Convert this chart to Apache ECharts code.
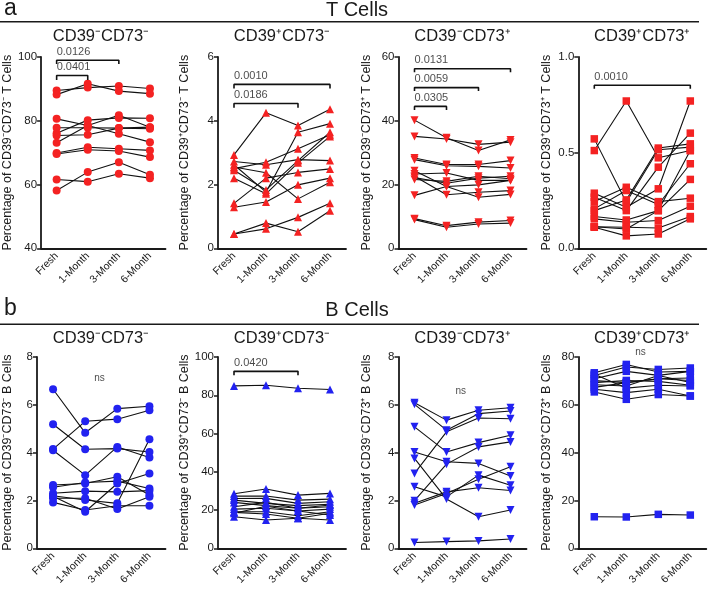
<!DOCTYPE html>
<html><head><meta charset="utf-8">
<script src="https://cdn.jsdelivr.net/npm/echarts@6/dist/echarts.min.js"></script>
<style>html,body{margin:0;padding:0;background:#fff}#c{width:708px;height:589px}</style>
</head><body><div id="c"></div>
<script>
// ---------- data ----------
const categories = ['Fresh', '1-Month', '3-Month', '6-Month'];

// T cells (each row = one donor: Fresh, 1-Month, 3-Month, 6-Month)
const tNegNeg = [
  [89.5, 90.4, 90.9, 90.1], [88.2, 91.6, 89.3, 88.5], [80.6, 78.5, 75.9, 73.3],
  [77.8, 77.8, 77.7, 77.5], [76.1, 80.2, 80.9, 80.8], [75.4, 75.6, 77.7, 78.0],
  [73.1, 78.5, 81.7, 78.0], [69.9, 71.7, 71.2, 70.7], [69.6, 70.9, 70.5, 68.6],
  [61.6, 60.9, 63.4, 62.0], [58.1, 63.9, 67.0, 63.1]
];
const tPosNeg = [
  [2.93, 4.25, 3.85, 4.36], [2.72, 2.62, 2.78, 2.75], [2.62, 1.76, 3.64, 3.91],
  [2.55, 2.37, 1.55, 2.07], [2.50, 2.70, 3.12, 3.56], [2.45, 1.83, 2.75, 3.64],
  [2.20, 1.71, 2.68, 3.51], [1.41, 2.20, 2.38, 2.49], [1.29, 1.45, 1.99, 2.20],
  [0.45, 0.79, 0.52, 1.18], [0.45, 0.61, 0.97, 1.41]
];
const tNegPos = [
  [40.2, 34.7, 30.7, 34.0], [35.1, 34.3, 32.6, 33.3], [28.3, 26.3, 26.3, 27.5],
  [27.8, 25.9, 25.7, 25.2], [24.3, 19.4, 16.0, 16.9], [23.3, 23.6, 21.3, 21.3],
  [22.2, 20.4, 22.0, 22.6], [21.6, 21.0, 22.6, 21.8], [16.6, 19.4, 19.9, 21.3],
  [22.6, 16.8, 17.6, 18.1], [9.3, 7.1, 8.2, 8.7], [9.0, 6.6, 7.6, 7.9]
];
const tPosPos = [
  [0.511, 0.770, 0.473, 0.511], [0.572, 0.241, 0.515, 0.529], [0.288, 0.215, 0.311, 0.770],
  [0.267, 0.197, 0.424, 0.602], [0.244, 0.319, 0.244, 0.262], [0.206, 0.302, 0.229, 0.442],
  [0.197, 0.253, 0.524, 0.546], [0.166, 0.148, 0.197, 0.360], [0.154, 0.136, 0.145, 0.220],
  [0.113, 0.110, 0.106, 0.166], [0.110, 0.065, 0.075, 0.154], [0.113, 0.101, 0.197, 0.511]
];
// B cells
const bNegNeg = [
  [6.65, 4.83, 5.84, 5.94], [5.19, 4.14, 4.17, 4.03], [4.15, 5.31, 5.40, 5.77],
  [4.10, 3.06, 4.24, 3.80], [2.65, 2.71, 2.99, 2.23], [2.55, 2.75, 2.81, 2.50],
  [2.30, 2.39, 2.36, 2.41], [2.20, 2.02, 1.88, 4.56], [2.18, 1.53, 2.71, 3.13],
  [2.09, 2.09, 1.64, 2.16], [1.92, 1.60, 1.78, 1.78]
];
const bPosNeg = [
  [84.9, 85.2, 83.7, 83.0], [28.5, 31.0, 27.8, 28.7], [27.3, 27.3, 25.2, 25.7],
  [26.0, 26.1, 23.5, 24.3], [25.2, 23.5, 22.3, 23.0], [24.0, 22.3, 20.9, 22.6],
  [21.7, 24.0, 20.9, 21.7], [20.5, 20.9, 19.5, 20.5], [19.1, 19.1, 17.0, 19.1],
  [18.3, 22.0, 19.5, 17.4], [16.5, 14.8, 15.7, 14.8], [18.8, 17.9, 15.7, 18.3]
];
const bNegPos = [
  [6.09, 5.36, 5.77, 5.88], [6.02, 4.94, 5.63, 5.74], [5.08, 4.03, 4.42, 4.73],
  [4.03, 3.62, 3.55, 3.02], [3.76, 2.06, 1.32, 1.60], [3.13, 4.87, 5.45, 5.42],
  [2.57, 2.15, 3.06, 2.64], [1.99, 3.52, 4.24, 4.45], [1.88, 2.36, 2.53, 2.42],
  [1.81, 2.29, 2.89, 3.41], [0.24, 0.28, 0.31, 0.39]
];
const bPosPos = [
  [73.4, 76.9, 73.7, 74.0], [72.3, 75.8, 74.8, 75.4], [70.9, 74.0, 72.3, 74.0],
  [70.1, 69.3, 70.9, 71.2], [69.3, 70.2, 69.8, 68.2], [68.4, 67.9, 72.3, 69.3],
  [67.3, 69.3, 70.9, 70.2], [66.5, 65.1, 66.5, 63.7], [65.4, 62.3, 64.3, 63.7],
  [72.8, 67.0, 68.2, 67.9], [13.2, 13.1, 14.2, 13.9]
];

// significance annotations: p label, comparison target index, bracket level (data units)
const sigTNegNeg = [{ p: '0.0126', to: 2, level: 99.0, drop: 1.2 }, { p: '0.0401', to: 1, level: 94.2, drop: 1.4 }];
const sigTPosNeg = [{ p: '0.0010', to: 3, level: 5.14, drop: 0.13 }, { p: '0.0186', to: 2, level: 4.54, drop: 0.13 }];
const sigTNegPos = [{ p: '0.0131', to: 3, level: 56.3, drop: 1.1 }, { p: '0.0059', to: 2, level: 50.4, drop: 1.1 }, { p: '0.0305', to: 1, level: 44.5, drop: 1.1 }];
const sigTPosPos = [{ p: '0.0010', to: 3, level: 0.852, drop: 0.018 }];
const sigBPosNeg = [{ p: '0.0420', to: 2, level: 92.5, drop: 2.1 }];
const nsBNegNeg = { at: 1, level: 7.1 };
const nsBNegPos = { at: 1, level: 6.55 };
const nsBPosPos = { at: 1, level: 81.8 };

// ---------- layout / style ----------
const FONT = 'Liberation Sans, Arial, Helvetica, sans-serif';
const RED = '#f42222';
const BLUE = '#2222f0';
const INK = '#1a1a1a';
const SUP = { '+': '\u207A', '-': '\u207B' };

const panels = [
  { data: tNegNeg, s: ['-', '-'], cell: 'T', symbol: 'circle', rot: 0, color: RED, min: 40, max: 100, interval: 20, sig: sigTNegNeg, ns: null, gap: 22 },
  { data: tPosNeg, s: ['+', '-'], cell: 'T', symbol: 'triangle', rot: 0, color: RED, min: 0, max: 6, interval: 2, sig: sigTPosNeg, ns: null, gap: 27 },
  { data: tNegPos, s: ['-', '+'], cell: 'T', symbol: 'triangle', rot: 180, color: RED, min: 0, max: 60, interval: 20, sig: sigTNegPos, ns: null, gap: 25 },
  { data: tPosPos, s: ['+', '+'], cell: 'T', symbol: 'rect', rot: 0, color: RED, min: 0, max: 1, interval: 0.5, sig: sigTPosPos, ns: null, gap: 25, fixed: 1 },
  { data: bNegNeg, s: ['-', '-'], cell: 'B', symbol: 'circle', rot: 0, color: BLUE, min: 0, max: 8, interval: 2, sig: [], ns: nsBNegNeg, gap: 23 },
  { data: bPosNeg, s: ['+', '-'], cell: 'B', symbol: 'triangle', rot: 0, color: BLUE, min: 0, max: 100, interval: 20, sig: sigBPosNeg, ns: null, gap: 26 },
  { data: bNegPos, s: ['-', '+'], cell: 'B', symbol: 'triangle', rot: 180, color: BLUE, min: 0, max: 8, interval: 2, sig: [], ns: nsBNegPos, gap: 25 },
  { data: bPosPos, s: ['+', '+'], cell: 'B', symbol: 'rect', rot: 0, color: BLUE, min: 0, max: 80, interval: 20, sig: [], ns: nsBPosPos, gap: 25 }
];
const lefts = [36.5, 218, 398.5, 578.3];
const widths = [129, 128, 128, 128];
const tops = [57, 357];
const H = 191.3;

const grids = [], xAxes = [], yAxes = [], series = [], graphics = [];

panels.forEach((pn, i) => {
  const col = i % 4, row = Math.floor(i / 4);
  const marker = 'CD39' + SUP[pn.s[0]] + 'CD73' + SUP[pn.s[1]];
  grids.push({ left: lefts[col], top: tops[row], width: widths[col], height: H });
  xAxes.push({
    type: 'category', gridIndex: i, data: categories, boundaryGap: true,
    axisLine: { lineStyle: { color: INK, width: 1.8 } },
    axisTick: { alignWithLabel: true, length: 5, lineStyle: { color: INK, width: 1.5 } },
    axisLabel: { rotate: 45, fontSize: 10.5, fontFamily: FONT, color: INK, margin: 6 }
  });
  yAxes.push({
    type: 'value', gridIndex: i, min: pn.min, max: pn.max, interval: pn.interval,
    name: 'Percentage of ' + marker + ' ' + pn.cell + ' Cells', nameLocation: 'middle', nameGap: pn.gap,
    nameTextStyle: { fontSize: 12.5, fontFamily: FONT, color: INK },
    axisLine: { show: true, lineStyle: { color: INK, width: 1.8 } },
    axisTick: { show: true, length: 4, lineStyle: { color: INK, width: 1.5 } },
    splitLine: { show: false },
    axisLabel: { fontSize: 11.5, fontFamily: FONT, color: INK, margin: 4,
      formatter: pn.fixed ? (v => v.toFixed(pn.fixed)) : (v => String(v)) }
  });
  pn.data.forEach(row => {
    series.push({
      type: 'line', xAxisIndex: i, yAxisIndex: i, data: row,
      symbol: pn.symbol, symbolRotate: pn.rot, symbolSize: pn.symbol === 'rect' ? 7.5 : 8,
      itemStyle: { color: pn.color }, lineStyle: { color: '#111', width: 1.1 },
      silent: true, animation: false, z: 3
    });
  });
  pn.sig.forEach(b => {
    series.push({
      type: 'line', xAxisIndex: i, yAxisIndex: i, symbol: 'none', silent: true, animation: false,
      data: [[0, b.level - b.drop], [0, b.level], [b.to, b.level], [b.to, b.level - b.drop]],
      lineStyle: { color: '#111', width: 1.6 }, z: 4
    });
    series.push({
      type: 'scatter', xAxisIndex: i, yAxisIndex: i, symbolSize: 0, silent: true, animation: false, clip: false,
      data: [[0, b.level]],
      label: { show: true, formatter: b.p, position: 'top', align: 'left', distance: 3, fontSize: 11, fontFamily: FONT, color: INK }
    });
  });
  if (pn.ns) {
    series.push({
      type: 'scatter', xAxisIndex: i, yAxisIndex: i, symbolSize: 0, silent: true, animation: false, clip: false,
      data: [[pn.ns.at, pn.ns.level]],
      label: { show: true, formatter: 'ns', position: 'right', distance: 9, fontSize: 10, fontFamily: FONT, color: INK }
    });
  }
  // panel title
  graphics.push({
    type: 'text', x: lefts[col] + widths[col] / 2, y: (row === 0 ? 36 : 338),
    style: { text: marker, fontSize: 16.5, fontFamily: FONT, fill: INK, align: 'center', verticalAlign: 'middle' }
  });
});

// section headers
[['a', 'T Cells', 0], ['b', 'B Cells', 300]].forEach(([letter, label, dy]) => {
  const ly = 21.8 + dy + (dy ? 2.5 : 0);
  graphics.push({ type: 'text', x: 4, y: 9 + dy, style: { text: letter, fontSize: 23, fontFamily: FONT, fill: INK, align: 'left', verticalAlign: 'middle' } });
  graphics.push({ type: 'text', x: 357, y: 10.5 + dy, style: { text: label, fontSize: 20, fontFamily: FONT, fill: INK, align: 'center', verticalAlign: 'middle' } });
  graphics.push({ type: 'line', shape: { x1: 0, y1: ly, x2: 699, y2: ly }, style: { stroke: INK, lineWidth: 1.5 } });
});

const chart = echarts.init(document.getElementById('c'), null, { renderer: 'canvas' });
chart.setOption({
  backgroundColor: '#fff', animation: false,
  grid: grids, xAxis: xAxes, yAxis: yAxes, series: series, graphic: graphics
});
</script></body></html>
